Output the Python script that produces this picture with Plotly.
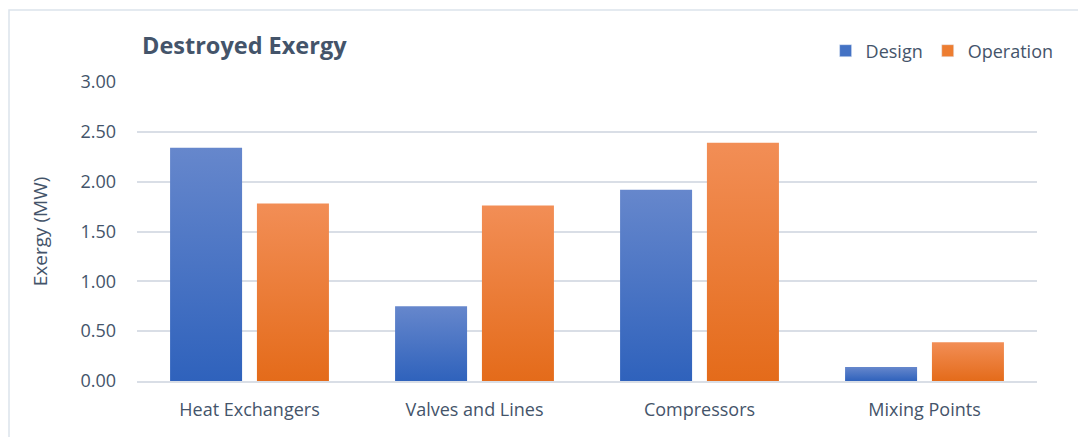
import plotly.graph_objects as go

# Destroyed exergy per equipment group (MW)
categories = ["Heat Exchangers", "Valves and Lines", "Compressors", "Mixing Points"]
design = [2.34, 0.75, 1.92, 0.14]
operation = [1.78, 1.76, 2.39, 0.39]
y_ticks = [0, 0.5, 1.0, 1.5, 2.0, 2.5, 3.0]

TEXT = "#44546A"
GRID = "#D9DEE6"
FONT = "Open Sans"

series = [
    ("Design", design, -0.193, "#2F62BC", "#6687CC", "#4472C4"),
    ("Operation", operation, 0.193, "#E46B1A", "#F28E56", "#ED7D31"),
]
BAR_W = 0.32

fig = go.Figure()

# each bar is a filled rectangle with its own vertical gradient (dark base, light top)
for name, vals, off, c_low, c_high, c_mid in series:
    for i, v in enumerate(vals):
        x0 = i + off - BAR_W / 2
        x1 = i + off + BAR_W / 2
        fig.add_trace(go.Scatter(
            x=[x0, x1, x1, x0, x0],
            y=[0, 0, v, v, 0],
            mode="lines",
            fill="toself",
            line=dict(width=0, color=c_mid),
            fillgradient=dict(type="vertical",
                              colorscale=[[0, c_low], [1, c_high]]),
            name=name,
            legendgroup=name,
            showlegend=False,
            hovertemplate=f"{categories[i]}<br>{name}: %{{y:.2f}} MW<extra></extra>",
            hoveron="fills",
        ))

# legend keys
for name, vals, off, c_low, c_high, c_mid in series:
    fig.add_trace(go.Bar(
        x=[None], y=[None], name=name, legendgroup=name,
        marker=dict(color=c_mid), showlegend=True,
    ))

fig.update_layout(
    width=1078, height=437,
    margin=dict(l=137, r=41, t=82, b=56),
    paper_bgcolor="white",
    plot_bgcolor="white",
    font=dict(family=FONT, color=TEXT, size=18),
    title=dict(
        text="<b>Destroyed Exergy</b>",
        x=142 / 1078, xref="container", xanchor="left",
        y=1 - 46 / 437, yref="container", yanchor="middle",
        font=dict(family=FONT, size=23.5, color=TEXT),
    ),
    legend=dict(
        orientation="h",
        x=1.024, xanchor="right",
        y=(381 - 51) / 299, yanchor="middle",
        font=dict(family=FONT, size=18, color=TEXT),
        bgcolor="rgba(0,0,0,0)",
        itemwidth=30,
        traceorder="normal",
    ),
    showlegend=True,
    xaxis=dict(
        range=[-0.5, 3.5],
        tickmode="array",
        tickvals=list(range(len(categories))),
        ticktext=categories,
        showgrid=False,
        zeroline=False,
        showline=True, linecolor=GRID, linewidth=2,
        ticks="",
        ticklabelstandoff=11,
        tickfont=dict(family=FONT, size=18, color=TEXT),
        fixedrange=True,
    ),
    yaxis=dict(
        range=[0, 3],
        tickmode="array",
        tickvals=y_ticks,
        ticktext=[f"{t:.2f}" for t in y_ticks],
        showgrid=True, gridcolor=GRID, gridwidth=1.5,
        zeroline=False,
        showline=False,
        ticks="",
        ticklabelstandoff=20,
        tickfont=dict(family=FONT, size=18, color=TEXT),
        title=dict(text="Exergy (MW)", standoff=27,
                   font=dict(family=FONT, size=19, color=TEXT)),
        fixedrange=True,
    ),
    shapes=[
        # chart frame (open on the right and bottom edges)
        dict(type="rect", xref="paper", yref="paper",
             x0=(9 - 137) / 900, x1=1.2, y0=-0.5, y1=(381 - 10) / 299,
             line=dict(color="#DCE3EC", width=1.5), layer="below"),
    ],
)

fig.write_html("out.html")
